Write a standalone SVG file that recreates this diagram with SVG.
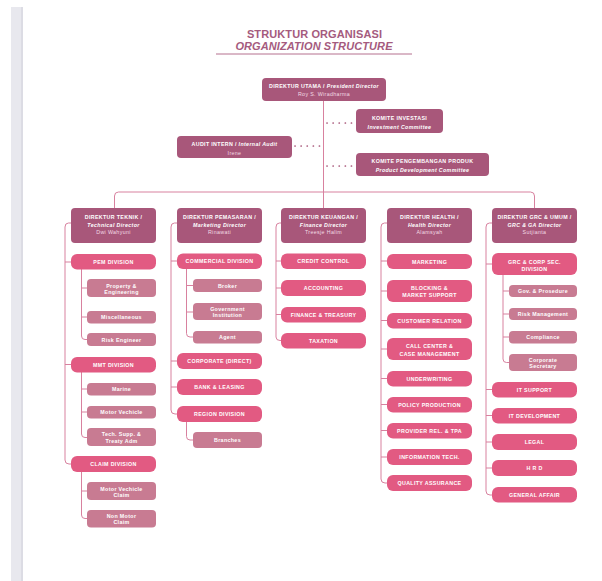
<svg xmlns="http://www.w3.org/2000/svg" width="602" height="581" viewBox="0 0 602 581">
  <style>
    .t { font-family: "Liberation Sans", Arial, sans-serif; font-weight: bold; fill: #ffffff; text-anchor: middle; dominant-baseline: central; font-size: 5.3px; letter-spacing: 0.35px; }
    .n { font-weight: normal; fill: #f3dbe5; }
    .i { font-style: italic; }
    .title { font-family: "Liberation Sans", Arial, sans-serif; font-weight: bold; fill: #a55b7e; text-anchor: middle; font-size: 11px; letter-spacing: 0.1px; }
    .dir { fill: #a8577a; }
    .div { fill: #e25a82; }
    .sub { fill: #c87b92; }
    .ln { fill: none; stroke: #d8819f; stroke-width: 1; }
    .dot { fill: none; stroke: #a8577a; stroke-width: 1.7; stroke-linecap: round; stroke-dasharray: 0.1 6; }
  </style>

  <rect x="0" y="0" width="602" height="581" fill="#ffffff"/>
  <!-- page edge strip -->
  <rect x="11" y="7" width="12" height="574" fill="#e8e8ee"/>
  <rect x="21" y="7" width="2" height="574" fill="#dcdce4"/>

  <!-- heading -->
  <g id="heading">
    <text class="title" x="314.5" y="37.5">STRUKTUR ORGANISASI</text>
    <text class="title i" x="314" y="49.5">ORGANIZATION STRUCTURE</text>
    <line x1="216" y1="54" x2="412" y2="54" stroke="#b5708f" stroke-width="1"/>
  </g>

  <!-- connectors -->
  <g id="connectors">
    <path class="ln" d="M323.5,101 V208"/>
    <path class="ln" d="M114.5,208 V196 Q114.5,192 118.5,192 H530.5 Q534.5,192 534.5,196 V208"/>
    <path class="dot" d="M327,123 H352"/>
    <path class="dot" d="M295,146 H320"/>
    <path class="dot" d="M327,166 H352"/>

    <!-- technical -->
    <path class="ln" d="M71,223 H68.5 Q65,223 65,227 V460 Q65,464 69,464 H71 M65,262 H71 M65,364.5 H71"/>
    <path class="ln" d="M81.5,269 V336 Q81.5,339.5 85,339.5 H87 M81.5,288 H87 M81.5,317 H87"/>
    <path class="ln" d="M81.5,372 V434 Q81.5,437.5 85,437.5 H87 M81.5,389 H87 M81.5,412 H87"/>
    <path class="ln" d="M81.5,472 V515 Q81.5,518.5 85,518.5 H87 M81.5,491 H87"/>

    <!-- marketing -->
    <path class="ln" d="M177,223 H174.5 Q171,223 171,227 V410 Q171,414 175,414 H177 M171,261 H177 M171,361 H177 M171,387 H177"/>
    <path class="ln" d="M186.5,269 V333.5 Q186.5,337 190,337 H193 M186.5,285.5 H193 M186.5,312 H193"/>
    <path class="ln" d="M186.5,422 V436.5 Q186.5,440 190,440 H193"/>

    <!-- finance -->
    <path class="ln" d="M281,223 H279.5 Q276,223 276,227 V337 Q276,340.5 280,340.5 H281 M276,261 H281 M276,288 H281 M276,314.5 H281"/>

    <!-- health -->
    <path class="ln" d="M387,223 H384.5 Q381,223 381,227 V479 Q381,483 385,483 H387 M381,261 H387 M381,291 H387 M381,320.5 H387 M381,349 H387 M381,378.5 H387 M381,404.5 H387 M381,430.5 H387 M381,457 H387"/>

    <!-- grc -->
    <path class="ln" d="M492,223 H489.5 Q486,223 486,227 V491 Q486,495 490,495 H492 M486,264 H492 M486,389.5 H492 M486,415.5 H492 M486,442 H492 M486,468 H492"/>
    <path class="ln" d="M503,275 V359 Q503,362.5 506.5,362.5 H509 M503,291 H509 M503,314 H509 M503,337 H509"/>
  </g>

  <!-- top level -->
  <g id="president">
    <rect class="dir" x="262" y="78" width="124" height="23" rx="4"/>
    <text class="t" x="324" y="86">DIREKTUR UTAMA / <tspan class="i">President Director</tspan></text>
    <text class="t n" x="324" y="94">Roy S. Wiradharma</text>
  </g>
  <g id="investment-committee">
    <rect class="dir" x="356" y="109" width="87" height="24" rx="4"/>
    <text class="t" x="399.5" y="118">KOMITE INVESTASI</text>
    <text class="t i" x="399.5" y="127">Investment Committee</text>
  </g>
  <g id="internal-audit">
    <rect class="dir" x="177" y="136" width="115" height="22" rx="4"/>
    <text class="t" x="234.5" y="144">AUDIT INTERN / <tspan class="i">Internal Audit</tspan></text>
    <text class="t n" x="234.5" y="152.5">Irene</text>
  </g>
  <g id="product-committee">
    <rect class="dir" x="356" y="153" width="133" height="23" rx="4"/>
    <text class="t" x="422.5" y="161">KOMITE PENGEMBANGAN PRODUK</text>
    <text class="t i" x="422.5" y="170">Product Development Committee</text>
  </g>

  <!-- technical director column -->
  <g id="technical-director">
    <rect class="dir" x="71" y="208" width="85" height="35" rx="4"/>
    <text class="t" x="113.5" y="217">DIREKTUR TEKNIK /</text>
    <text class="t i" x="113.5" y="224.5">Technical Director</text>
    <text class="t n" x="113.5" y="232">Dwi Wahyuni</text>
  </g>
  <g id="pem-division"><rect class="div" x="71" y="254" width="85" height="15.5" rx="6"/><text class="t" x="113.5" y="262">PEM DIVISION</text></g>
  <g id="property-engineering"><rect class="sub" x="87" y="279" width="69" height="18" rx="4"/><text class="t" x="121.5" y="285.5">Property &amp;</text><text class="t" x="121.5" y="291.5">Engineering</text></g>
  <g id="miscellaneous"><rect class="sub" x="87" y="311" width="69" height="12.5" rx="4"/><text class="t" x="121.5" y="317.2">Miscellaneous</text></g>
  <g id="risk-engineer"><rect class="sub" x="87" y="333" width="69" height="13" rx="4"/><text class="t" x="121.5" y="339.5">Risk Engineer</text></g>
  <g id="mmt-division"><rect class="div" x="71" y="357" width="85" height="15.5" rx="6"/><text class="t" x="113.5" y="364.5">MMT DIVISION</text></g>
  <g id="marine"><rect class="sub" x="87" y="383" width="69" height="12.5" rx="4"/><text class="t" x="121.5" y="389.2">Marine</text></g>
  <g id="motor-vechicle"><rect class="sub" x="87" y="406" width="69" height="12.5" rx="4"/><text class="t" x="121.5" y="412.2">Motor Vechicle</text></g>
  <g id="tech-supp"><rect class="sub" x="87" y="428" width="69" height="18" rx="4"/><text class="t" x="121.5" y="434.3">Tech. Supp. &amp;</text><text class="t" x="121.5" y="440.5">Treaty Adm</text></g>
  <g id="claim-division"><rect class="div" x="71" y="456" width="85" height="16" rx="6"/><text class="t" x="113.5" y="464">CLAIM DIVISION</text></g>
  <g id="motor-vechicle-claim"><rect class="sub" x="87" y="482" width="69" height="18" rx="4"/><text class="t" x="121.5" y="488.5">Motor Vechicle</text><text class="t" x="121.5" y="494.7">Claim</text></g>
  <g id="non-motor-claim"><rect class="sub" x="87" y="510" width="69" height="17.5" rx="4"/><text class="t" x="121.5" y="516">Non Motor</text><text class="t" x="121.5" y="522.2">Claim</text></g>

  <!-- marketing director column -->
  <g id="marketing-director">
    <rect class="dir" x="177" y="208" width="85" height="35" rx="4"/>
    <text class="t" x="219.5" y="217">DIREKTUR PEMASARAN /</text>
    <text class="t i" x="219.5" y="224.5">Marketing Director</text>
    <text class="t n" x="219.5" y="232">Rinawati</text>
  </g>
  <g id="commercial-division"><rect class="div" x="177" y="253.5" width="85" height="15.5" rx="6"/><text class="t" x="219.5" y="261.3">COMMERCIAL DIVISION</text></g>
  <g id="broker"><rect class="sub" x="193" y="279" width="69" height="13" rx="4"/><text class="t" x="227.5" y="285.5">Broker</text></g>
  <g id="government-institution"><rect class="sub" x="193" y="303" width="69" height="17" rx="4"/><text class="t" x="227.5" y="309">Government</text><text class="t" x="227.5" y="315">Institution</text></g>
  <g id="agent"><rect class="sub" x="193" y="331" width="69" height="12.5" rx="4"/><text class="t" x="227.5" y="337.2">Agent</text></g>
  <g id="corporate-direct"><rect class="div" x="177" y="353" width="85" height="16" rx="6"/><text class="t" x="219.5" y="361">CORPORATE (DIRECT)</text></g>
  <g id="bank-leasing"><rect class="div" x="177" y="379" width="85" height="16" rx="6"/><text class="t" x="219.5" y="387">BANK &amp; LEASING</text></g>
  <g id="region-division"><rect class="div" x="177" y="406" width="85" height="16" rx="6"/><text class="t" x="219.5" y="414">REGION DIVISION</text></g>
  <g id="branches"><rect class="sub" x="193" y="432" width="69" height="16" rx="4"/><text class="t" x="227.5" y="440">Branches</text></g>

  <!-- finance director column -->
  <g id="finance-director">
    <rect class="dir" x="281" y="208" width="85" height="35" rx="4"/>
    <text class="t" x="323.5" y="217">DIREKTUR KEUANGAN /</text>
    <text class="t i" x="323.5" y="224.5">Finance Director</text>
    <text class="t n" x="323.5" y="232">Treesje Halim</text>
  </g>
  <g id="credit-control"><rect class="div" x="281" y="253.5" width="85" height="15.5" rx="6"/><text class="t" x="323.5" y="261.3">CREDIT CONTROL</text></g>
  <g id="accounting"><rect class="div" x="281" y="280" width="85" height="16" rx="6"/><text class="t" x="323.5" y="288">ACCOUNTING</text></g>
  <g id="finance-treasury"><rect class="div" x="281" y="307" width="85" height="15.5" rx="6"/><text class="t" x="323.5" y="314.8">FINANCE &amp; TREASURY</text></g>
  <g id="taxation"><rect class="div" x="281" y="333" width="85" height="15.5" rx="6"/><text class="t" x="323.5" y="340.8">TAXATION</text></g>

  <!-- health director column -->
  <g id="health-director">
    <rect class="dir" x="387" y="208" width="85" height="35" rx="4"/>
    <text class="t" x="429.5" y="217">DIREKTUR HEALTH /</text>
    <text class="t i" x="429.5" y="224.5">Health Director</text>
    <text class="t n" x="429.5" y="232">Alamsyah</text>
  </g>
  <g id="health-marketing"><rect class="div" x="387" y="254" width="85" height="15" rx="6"/><text class="t" x="429.5" y="261.5">MARKETING</text></g>
  <g id="blocking-market-support"><rect class="div" x="387" y="280" width="85" height="22" rx="6"/><text class="t" x="429.5" y="287.5">BLOCKING &amp;</text><text class="t" x="429.5" y="295">MARKET SUPPORT</text></g>
  <g id="customer-relation"><rect class="div" x="387" y="313" width="85" height="15.5" rx="6"/><text class="t" x="429.5" y="320.8">CUSTOMER RELATION</text></g>
  <g id="call-center"><rect class="div" x="387" y="338" width="85" height="22" rx="6"/><text class="t" x="429.5" y="345.5">CALL CENTER &amp;</text><text class="t" x="429.5" y="353.5">CASE MANAGEMENT</text></g>
  <g id="underwriting"><rect class="div" x="387" y="371" width="85" height="15.5" rx="6"/><text class="t" x="429.5" y="378.8">UNDERWRITING</text></g>
  <g id="policy-production"><rect class="div" x="387" y="397" width="85" height="15.5" rx="6"/><text class="t" x="429.5" y="404.8">POLICY PRODUCTION</text></g>
  <g id="provider-rel"><rect class="div" x="387" y="423" width="85" height="15.5" rx="6"/><text class="t" x="429.5" y="430.8">PROVIDER REL. &amp; TPA</text></g>
  <g id="information-tech"><rect class="div" x="387" y="449" width="85" height="16" rx="6"/><text class="t" x="429.5" y="457">INFORMATION TECH.</text></g>
  <g id="quality-assurance"><rect class="div" x="387" y="475" width="85" height="16" rx="6"/><text class="t" x="429.5" y="483">QUALITY ASSURANCE</text></g>

  <!-- grc director column -->
  <g id="grc-director">
    <rect class="dir" x="492" y="208" width="85" height="35" rx="4"/>
    <text class="t" x="534.5" y="217">DIREKTUR GRC &amp; UMUM /</text>
    <text class="t i" x="534.5" y="224.5">GRC &amp; GA Director</text>
    <text class="t n" x="534.5" y="232">Sutjianta</text>
  </g>
  <g id="grc-corp-sec"><rect class="div" x="492" y="253" width="85" height="22" rx="6"/><text class="t" x="534.5" y="261.5">GRC &amp; CORP SEC.</text><text class="t" x="534.5" y="268.8">DIVISION</text></g>
  <g id="gov-prosedure"><rect class="sub" x="509" y="285" width="68" height="12" rx="4"/><text class="t" x="543" y="291">Gov. &amp; Prosedure</text></g>
  <g id="risk-management"><rect class="sub" x="509" y="308" width="68" height="12" rx="4"/><text class="t" x="543" y="314">Risk Management</text></g>
  <g id="compliance"><rect class="sub" x="509" y="331" width="68" height="12.5" rx="4"/><text class="t" x="543" y="337.2">Compliance</text></g>
  <g id="corporate-secretary"><rect class="sub" x="509" y="354" width="68" height="17" rx="4"/><text class="t" x="543" y="360">Corporate</text><text class="t" x="543" y="366">Secretary</text></g>
  <g id="it-support"><rect class="div" x="492" y="382" width="85" height="15.5" rx="6"/><text class="t" x="534.5" y="389.8">IT SUPPORT</text></g>
  <g id="it-development"><rect class="div" x="492" y="408" width="85" height="15.5" rx="6"/><text class="t" x="534.5" y="415.8">IT DEVELOPMENT</text></g>
  <g id="legal"><rect class="div" x="492" y="434" width="85" height="16" rx="6"/><text class="t" x="534.5" y="442">LEGAL</text></g>
  <g id="hrd"><rect class="div" x="492" y="460" width="85" height="16" rx="6"/><text class="t" x="534.5" y="468">H R D</text></g>
  <g id="general-affair"><rect class="div" x="492" y="487" width="85" height="15.5" rx="6"/><text class="t" x="534.5" y="494.8">GENERAL AFFAIR</text></g>
</svg>
